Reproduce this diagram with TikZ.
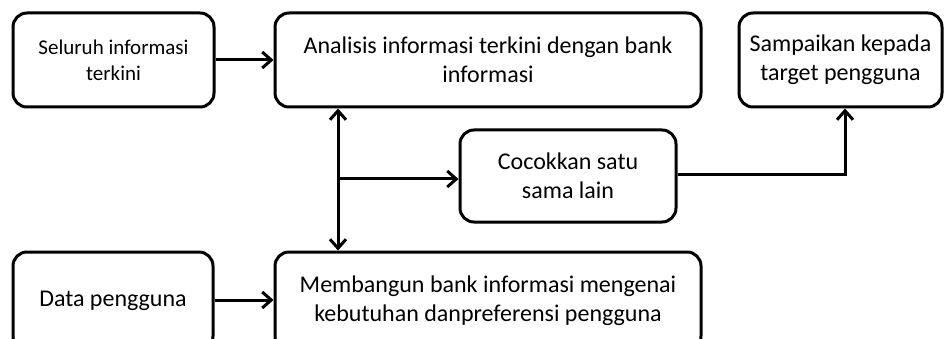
\documentclass[tikz,border=0pt]{standalone}
\usepackage{fontspec}
\setmainfont{Carlito}
\usetikzlibrary{arrows.meta,positioning}
\tikzset{
  pbox/.style={draw=black, fill=white, rounded corners=14pt, line width=3pt, align=center, inner sep=4pt,
    font=\fontsize{24}{29}\selectfont},
  pboxsmall/.style={pbox, font=\fontsize{21}{26}\selectfont},
  ptip/.tip={Straight Barb[length=9pt, width=16pt, line width=3pt]},
  parrow/.style={-ptip, line width=3pt},
}
\begin{document}
\begin{tikzpicture}[x=1pt, y=-1pt]
  \useasboundingbox (0,0) rectangle (944,339);
  \clip (0,0) rectangle (944,339);
  % top row
  \node[pboxsmall, minimum width=201pt, minimum height=94pt] (seluruh) at (113.5,60) {Seluruh informasi\\terkini};
  \node[pbox, minimum width=426pt, minimum height=94pt] (analisis) at (488,60) {Analisis informasi terkini dengan bank\\informasi};
  \node[pbox, minimum width=203pt, minimum height=94pt] (sampaikan) at (840.5,60) {Sampaikan kepada\\target pengguna};
  % middle
  \node[pbox, minimum width=216pt, minimum height=92pt] (cocok) at (568,176) {Cocokkan satu\\sama lain};
  % bottom row
  \node[pbox, minimum width=200pt, minimum height=98pt] (data) at (113,301) {Data pengguna};
  \node[pbox, minimum width=426pt, minimum height=98pt] (bangun) at (488,301) {Membangun bank informasi mengenai\\kebutuhan danpreferensi pengguna};
  \coordinate (split) at (338,179);
  \coordinate (turn) at (845,175);
  \draw[parrow] (seluruh) -- (analisis);
  \draw[parrow] (data.east |- 0,300) -- (bangun.west |- 0,300);
  \draw[parrow, ptip-ptip] (split |- analisis.south) -- (split |- bangun.north);
  \draw[parrow] (split) -- (cocok.west |- split);
  \draw[parrow] (cocok.east |- turn) -- (turn) -- (turn |- sampaikan.south);
\end{tikzpicture}
\end{document}
